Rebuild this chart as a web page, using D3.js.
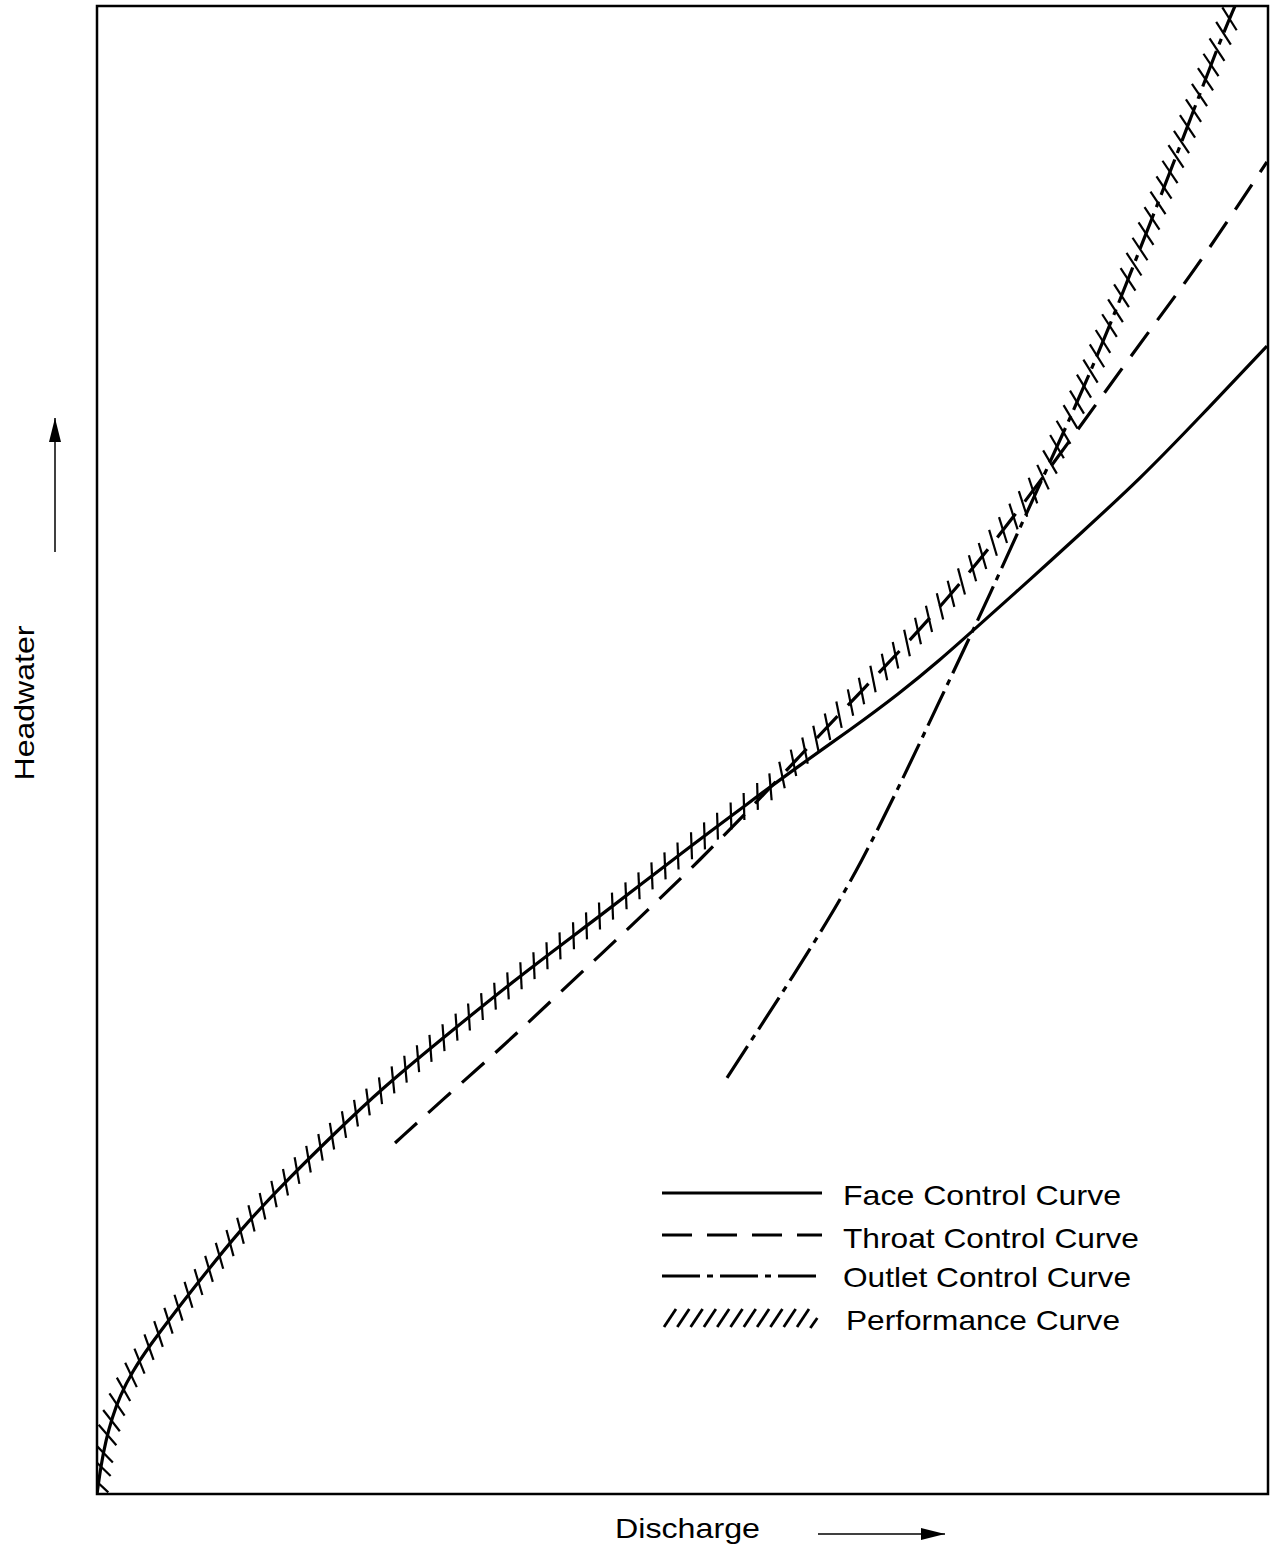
<!DOCTYPE html>
<html>

<head>
  <title>Culvert Performance Curve</title>
  <meta charset="utf-8">
  <style>
    body {
      padding: 0;
      margin: 0;
      background: white;
      font-family: "Liberation Sans", Arial, sans-serif;
    }
    .frame {
      fill: none;
      stroke: black;
      stroke-width: 2.5;
    }
    .curve {
      fill: none;
      stroke: black;
      stroke-width: 3.2;
    }
    .throat {
      stroke-dasharray: 30, 15;
    }
    .outlet {
      stroke-dasharray: 38, 7, 6, 7;
    }
    .hatch {
      stroke: black;
      stroke-width: 2.2;
    }
    .label {
      font-size: 28px;
      fill: black;
    }
  </style>
</head>

<body>
  <div id="chart"></div>

  <script src="https://d3js.org/d3.v7.min.js"></script>
  <script>
      // discharge (0-100) and headwater (0-100), no units on the axes
      var faceQ  = [0, 0.34, 0.77, 1.28, 1.96, 2.99, 4.53, 6.66, 8.8, 12.21, 16.06, 20.33, 24.17, 30.15, 36.98, 42.96, 49.79, 55.76, 60.03, 64.3, 68.57, 71.99, 75.15, 79.93, 83.95, 89.07, 94.19, 99.91]
      var faceHW = [0, 1.95, 3.63, 5.11, 6.59, 8.2, 10.01, 12.23, 14.38, 17.74, 20.97, 24.26, 27.15, 31.05, 35.35, 38.84, 43.01, 46.51, 48.99, 51.34, 53.83, 56.05, 58.27, 61.63, 64.52, 68.21, 72.38, 77.15]

      var throatQ  = [25.45, 30.15, 34.42, 38.69, 42.96, 47.23, 51.49, 55.76, 60.03, 64.3, 68.57, 72.84, 77.11, 81.38, 85.65, 89.92, 94.19, 99.91]
      var throatHW = [23.59, 26.95, 29.91, 33.06, 36.22, 39.38, 42.61, 46.03, 49.6, 53.16, 56.65, 60.35, 64.45, 68.95, 73.59, 78.23, 82.73, 89.52]

      var outletQ  = [53.8, 56.62, 59.44, 62.34, 65.16, 68.57, 71.99, 75.15, 77.11, 79.93, 82.84, 85.65, 88.47, 90.78, 93.34, 95.9, 97.18]
      var outletHW = [27.96, 31.38, 34.81, 38.44, 42.27, 47.65, 53.36, 58.6, 61.96, 66.87, 71.84, 76.88, 82.46, 87.1, 92.34, 97.65, 100]

      var legendLabels = ["Face Control Curve", "Throat Control Curve", "Outlet Control Curve", "Performance Curve"]

      var width = 1272,
        height = 1552

      // plot box edges
      var plotL = 97, plotR = 1268, plotT = 6, plotB = 1494

      var x = d3.scaleLinear().domain([0, 100]).range([plotL, plotR])
      var y = d3.scaleLinear().domain([0, 100]).range([plotB, plotT])

      var svg = d3.select("#chart")
        .append("svg")
        .attr("width", width)
        .attr("height", height)

      var defs = svg.append("defs")

      // clip everything to the plot box
      defs.append("clipPath")
        .attr("id", "plot")
        .append("rect")
        .attr("x", plotL).attr("y", plotT)
        .attr("width", plotR - plotL).attr("height", plotB - plotT)

      var line = d3.line()
        .x(function (d) { return x(d[0]) })
        .y(function (d) { return y(d[1]) })
        .curve(d3.curveBasis)

      function pairs(qs, hs) {
        return qs.map(function (q, i) { return [q, hs[i]] })
      }

      var series = [
        { name: "face", data: pairs(faceQ, faceHW) },
        { name: "throat", data: pairs(throatQ, throatHW) },
        { name: "outlet", data: pairs(outletQ, outletHW) }
      ]

      var plot = svg.append("g").attr("clip-path", "url(#plot)")

      var paths = plot.selectAll("path.curve")
        .data(series)
        .enter().append("path")
        .attr("class", function (d) { return "curve " + d.name })
        .attr("d", function (d) { return line(d.data) })

      // sample each drawn curve so the envelope follows the smoothed lines
      var sampled = []
      paths.each(function () {
        var len = this.getTotalLength(), pts = []
        for (var s = 0; s <= len; s += 0.5) {
          var p = this.getPointAtLength(s)
          pts.push([p.x, p.y])
        }
        sampled.push(pts)
      })

      function yAt(pts, px) {
        if (px < pts[0][0] || px > pts[pts.length - 1][0]) return null
        var i = d3.bisector(function (d) { return d[0] }).left(pts, px)
        if (i === 0) return pts[0][1]
        var a = pts[i - 1], b = pts[i]
        if (b[0] === a[0]) return b[1]
        return a[1] + (b[1] - a[1]) * (px - a[0]) / (b[0] - a[0])
      }

      // performance curve = highest headwater of the three controls,
      // stops where it runs out of the top of the box
      var envelope = []
      var lastX = x(outletQ[outletQ.length - 1])
      for (var px = plotL; px <= lastX; px += 0.5) {
        var best = null
        sampled.forEach(function (pts) {
          var v = yAt(pts, px)
          if (v !== null && (best === null || v < best)) best = v
        })
        if (best === null || best < plotT) break
        envelope.push([px, best])
      }

      // hatch marks along the envelope
      var spacing = 16.5, hatchLen = 27, skew = 55 * Math.PI / 180
      var hatches = [], run = 8
      for (var i = 1; i < envelope.length - 1; i++) {
        var a = envelope[i - 1], b = envelope[i]
        run += Math.hypot(b[0] - a[0], b[1] - a[1])
        if (run >= spacing) {
          run -= spacing
          var p0 = envelope[Math.max(0, i - 6)], p1 = envelope[Math.min(envelope.length - 1, i + 6)]
          var theta = Math.atan2(-(p1[1] - p0[1]), p1[0] - p0[0]) + skew
          var dx = Math.cos(theta) * hatchLen / 2, dy = -Math.sin(theta) * hatchLen / 2
          hatches.push({ x1: b[0] - dx, y1: b[1] - dy, x2: b[0] + dx, y2: b[1] + dy })
        }
      }

      plot.selectAll("line.hatch")
        .data(hatches)
        .enter().append("line")
        .attr("class", "hatch")
        .attr("x1", function (d) { return d.x1 })
        .attr("y1", function (d) { return d.y1 })
        .attr("x2", function (d) { return d.x2 })
        .attr("y2", function (d) { return d.y2 })

      // plot frame
      svg.append("rect")
        .attr("class", "frame")
        .attr("x", plotL).attr("y", plotT)
        .attr("width", plotR - plotL).attr("height", plotB - plotT)

      // legend
      var legend = svg.append("g").attr("class", "legend")
      var legendY = [1193, 1235, 1276, 1318],
        textY = [1205, 1248, 1287, 1330],
        textLen = [278, 296, 288, 274],
        classes = ["face", "throat", "outlet"]

      classes.forEach(function (c, i) {
        legend.append("line")
          .attr("class", "curve " + c)
          .attr("x1", 662).attr("x2", 822)
          .attr("y1", legendY[i]).attr("y2", legendY[i])
      })

      // little slashes for the performance entry
      var slashes = d3.range(12)
      legend.selectAll("line.hatch")
        .data(slashes)
        .enter().append("line")
        .attr("class", "hatch")
        .attr("x1", function (d) { return 664 + d * 13.3 })
        .attr("y1", function (d) { return d === 11 ? legendY[3] + 10 : legendY[3] + 9 })
        .attr("x2", function (d) { return d === 11 ? 664 + d * 13.3 + 7 : 664 + d * 13.3 + 12 })
        .attr("y2", function (d) { return d === 11 ? legendY[3] : legendY[3] - 9 })
        .style("stroke-width", 2.8)

      legend.selectAll("text")
        .data(legendLabels)
        .enter().append("text")
        .attr("class", "label")
        .attr("x", function (d, i) { return i === 3 ? 846 : 843 })
        .attr("y", function (d, i) { return textY[i] })
        .attr("textLength", function (d, i) { return textLen[i] })
        .attr("lengthAdjust", "spacingAndGlyphs")
        .text(function (d) { return d })

      // axis titles with arrows
      defs.append("marker")
        .attr("id", "arrow")
        .attr("viewBox", "0 0 24 14")
        .attr("refX", 24).attr("refY", 7)
        .attr("markerWidth", 24).attr("markerHeight", 14)
        .attr("markerUnits", "userSpaceOnUse")
        .attr("orient", "auto")
        .append("path")
        .attr("d", "M0,1 L24,7 L0,13 Z")
        .attr("fill", "black")

      svg.append("text")
        .attr("class", "label")
        .attr("transform", "translate(34,703) rotate(-90)")
        .attr("text-anchor", "middle")
        .attr("textLength", 155)
        .attr("lengthAdjust", "spacingAndGlyphs")
        .text("Headwater")

      svg.append("line")
        .attr("x1", 55).attr("y1", 552)
        .attr("x2", 55).attr("y2", 418)
        .attr("stroke", "black").attr("stroke-width", 1.5)
        .attr("marker-end", "url(#arrow)")

      svg.append("text")
        .attr("class", "label")
        .attr("x", 615).attr("y", 1538)
        .attr("textLength", 145)
        .attr("lengthAdjust", "spacingAndGlyphs")
        .text("Discharge")

      svg.append("line")
        .attr("x1", 818).attr("y1", 1534)
        .attr("x2", 945).attr("y2", 1534)
        .attr("stroke", "black").attr("stroke-width", 1.5)
        .attr("marker-end", "url(#arrow)")

  </script>
</body>

</html>
